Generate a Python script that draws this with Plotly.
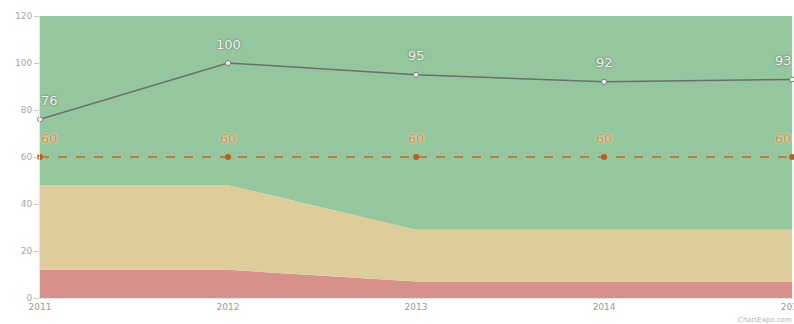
import plotly.graph_objects as go

years = [2011, 2012, 2013, 2014, 2015]
band_low = [12, 12, 7, 7, 7]        # red zone upper bound
band_mid = [48, 48, 29, 29, 29]     # yellow zone upper bound
band_high = [120, 120, 120, 120, 120]
actual = [76, 100, 95, 92, 93]
target = [60, 60, 60, 60, 60]
y_ticks = [0, 20, 40, 60, 80, 100, 120]

fig = go.Figure()

# Performance bands (stacked fills)
fig.add_trace(go.Scatter(x=years, y=band_low, mode="lines", line=dict(width=0),
                         fill="tozeroy", fillcolor="#d8908a", hoverinfo="skip"))
fig.add_trace(go.Scatter(x=years, y=band_mid, mode="lines", line=dict(width=0),
                         fill="tonexty", fillcolor="#ddcd9b", hoverinfo="skip"))
fig.add_trace(go.Scatter(x=years, y=band_high, mode="lines", line=dict(width=0),
                         fill="tonexty", fillcolor="#94c79d", hoverinfo="skip"))

# Target line
fig.add_trace(go.Scatter(
    x=years, y=target, mode="lines+markers",
    line=dict(color="#c8682a", width=1.5, dash="dash"),
    marker=dict(color="#c25c1c", size=6),
    cliponaxis=False,
))

# Actual values
fig.add_trace(go.Scatter(
    x=years, y=actual, mode="lines+markers",
    line=dict(color="#6b6f6b", width=1.5),
    marker=dict(color="#ffffff", size=5, line=dict(color="#777777", width=1)),
    cliponaxis=False,
))

# Value labels above each point; edge labels nudged inward
n = len(years)
for i, (x, a, t) in enumerate(zip(years, actual, target)):
    xs = 9 if i == 0 else (-9 if i == n - 1 else 0)
    fig.add_annotation(x=x, y=a, text=str(a), showarrow=False, yshift=19, xshift=xs,
                       font=dict(family="DejaVu Sans", size=13, color="#f2f2f2",
                                 shadow="0 0 2px #555555"))
    fig.add_annotation(x=x, y=t, text=str(t), showarrow=False, yshift=19, xshift=xs,
                       font=dict(family="DejaVu Sans", size=13, color="#de8a3a",
                                 shadow="0 0 2px #ffffff"))

fig.add_annotation(text="ChartExpo.com", xref="paper", yref="paper",
                   x=1.0, y=0, yshift=-16, xanchor="right", yanchor="top",
                   showarrow=False,
                   font=dict(family="DejaVu Sans", size=7, color="#b5b5b5"))

fig.update_layout(
    width=794, height=324,
    margin=dict(l=40, r=0, t=16, b=26, autoexpand=False),
    paper_bgcolor="white", plot_bgcolor="white",
    showlegend=False,
    xaxis=dict(range=[2011, 2015.01], tickvals=years, ticktext=[str(y) for y in years],
               showgrid=False, zeroline=False, showline=True, linecolor="#e6e6e6",
               ticks="", ticklabeloverflow="allow", automargin=False,
               tickfont=dict(family="DejaVu Sans", size=9, color="#9a9a9a")),
    yaxis=dict(range=[0, 120], tickvals=y_ticks, showgrid=False, zeroline=False,
               showline=True, linecolor="#e6e6e6", ticks="outside", ticklen=5,
               tickcolor="#cccccc", automargin=False,
               tickfont=dict(family="DejaVu Sans", size=9, color="#a8a8a8")),
)

fig.write_html("out.html")
